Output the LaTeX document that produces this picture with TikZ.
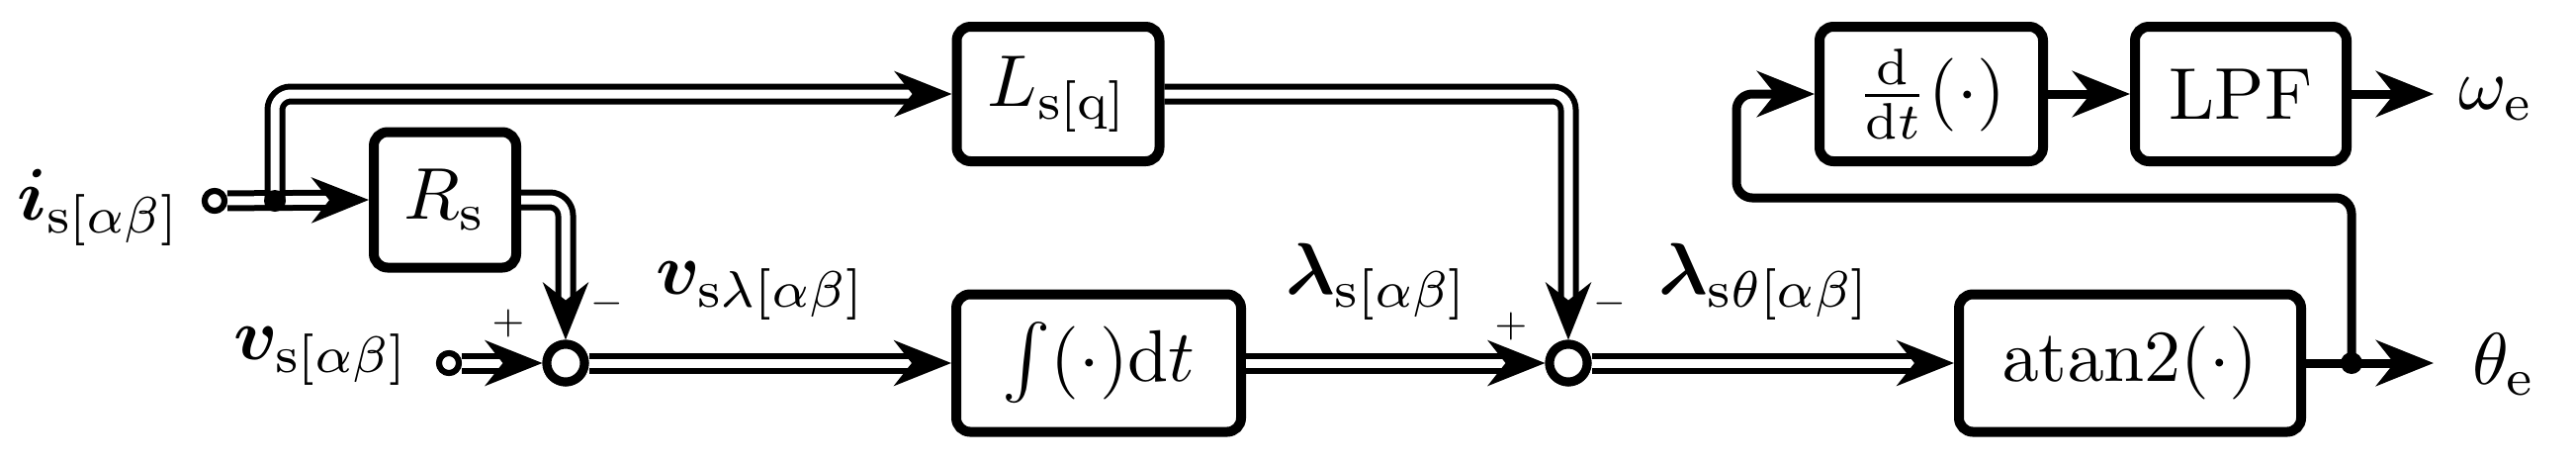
\documentclass[tikz,border=0pt]{standalone}
\usepackage{amsmath,bm}
\usetikzlibrary{arrows.meta}
\newcommand{\myBig}[1]{\scalebox{7.4}{#1}}
\newcommand{\mySml}[1]{\scalebox{4.2}{#1}}
\begin{document}
\begin{tikzpicture}[x=1pt,y=-1pt,
  blk/.style={draw,line width=10pt,rounded corners=14pt,inner sep=0pt},
  tip/.style={-{Stealth[length=58pt,width=46pt,inset=18pt]}},
  dbl/.style={tip,line width=6pt,double,double distance=9pt,rounded corners=16pt},
  sgl/.style={tip,line width=9pt,rounded corners=16pt},
  sum/.style={circle,draw,line width=9pt,minimum size=38pt,inner sep=0pt,fill=white},
  port/.style={circle,draw,line width=6pt,minimum size=20pt,inner sep=0pt,fill=white},
  dot/.style={circle,fill,minimum size=22pt,inner sep=0pt},
  lbl/.style={anchor=base west,inner sep=0pt}]
\useasboundingbox (0,0) rectangle (2605,467);
\node[blk,minimum width=205pt,minimum height=136pt] (Ls) at (1070,95) {\myBig{$L_{\mathrm{s}[\mathrm{q}]}$}};
\node[blk,minimum width=144pt,minimum height=137pt] (Rs) at (450,202) {\myBig{$R_{\mathrm{s}}$}};
\node[blk,minimum width=288pt,minimum height=139pt] (Int) at (1111,367) {\myBig{$\int(\cdot)\mathrm{d}t$}};
\node[blk,minimum width=226pt,minimum height=136pt] (dd) at (1953,95) {\myBig{$\tfrac{\mathrm{d}}{\mathrm{d}t}(\cdot)$}};
\node[blk,minimum width=214pt,minimum height=136pt] (LPF) at (2266,95) {\myBig{LPF}};
\node[blk,minimum width=346pt,minimum height=139pt] (at) at (2154,367) {\myBig{$\mathrm{atan2}(\cdot)$}};
\node[sum] (s1) at (572,367) {};
\node[sum] (s2) at (1586,367) {};
\coordinate (jn) at (278,203);
\coordinate (th) at (2461,367);
\coordinate (om) at (2461,95);
\coordinate (fb) at (2378,367);
\coordinate (fb1) at (2378,200);
\coordinate (fb2) at (1756,200);
\coordinate (fb3) at (1756,95);
\node[port] (iin) at (217,203) {};
\node[port] (vin) at (454,367) {};
% connectors
\draw[dbl] (iin) -- (Rs.west);
\draw[dbl] (jn) |- (Ls.west);
\draw[dbl] (Rs.east) -| (s1.north);
\draw[dbl] (vin) -- (s1.west);
\draw[dbl] (s1.east) -- (Int.west);
\draw[dbl] (Int.east) -- (s2.west);
\draw[dbl] (Ls.east) -| (s2.north);
\draw[dbl] (s2.east) -- (at.west);
\draw[sgl] (at.east) -- (th);
\draw[sgl] (fb) -- (fb1) -- (fb2) -- (fb3) -- (dd.west);
\draw[sgl] (dd.east) -- (LPF.west);
\draw[sgl] (LPF.east) -- (om);
\node[sum] at (s1) {};
\node[sum] at (s2) {};
\node[port] at (iin) {};
\node[port] at (vin) {};
\node[dot] (jd) at (jn) {};
\node[dot] (fd) at (fb) {};
% labels
\node[lbl] (li) at (17,222) {\myBig{$\bm{i}_{\mathrm{s}[\alpha\beta]}$}};
\node[lbl] (lv) at (236,363) {\myBig{$\bm{v}_{\mathrm{s}[\alpha\beta]}$}};
\node[lbl] (lvl) at (663,297) {\myBig{$\bm{v}_{\mathrm{s}\lambda[\alpha\beta]}$}};
\node[lbl] (ll) at (1300,297) {\myBig{$\bm{\lambda}_{\mathrm{s}[\alpha\beta]}$}};
\node[lbl] (llt) at (1677,297) {\myBig{$\bm{\lambda}_{\mathrm{s}\theta[\alpha\beta]}$}};
\node[lbl] (lth) at (2500,388) {\myBig{$\theta_{\mathrm{e}}$}};
\node[lbl] (lom) at (2486,110) {\myBig{$\omega_{\mathrm{e}}$}};
\node (p1) at (514,327) {\mySml{$+$}};
\node (m1) at (614,307) {\mySml{$-$}};
\node (p2) at (1528,330) {\mySml{$+$}};
\node (m2) at (1628,307) {\mySml{$-$}};
\end{tikzpicture}
\end{document}
